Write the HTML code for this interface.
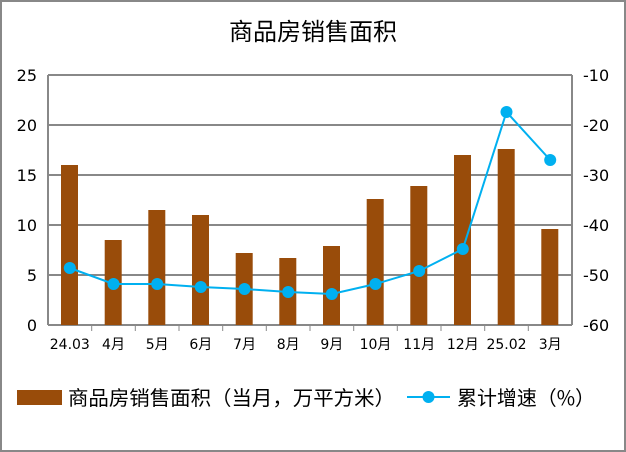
<!DOCTYPE html>
<html><head><meta charset="utf-8"><style>
html,body{margin:0;padding:0;background:#fff}
svg{display:block}
text{font-family:"DejaVu Sans","Liberation Sans","Noto Sans CJK SC",sans-serif;fill:#000}
.cjk{font-family:"WenQuanYi Zen Hei","Noto Sans CJK SC",sans-serif}
</style></head><body>
<svg width="626" height="452" viewBox="0 0 626 452" xmlns="http://www.w3.org/2000/svg">
<rect x="1" y="1" width="624" height="450" fill="#fff" stroke="#888" stroke-width="2"/>
<text x="313" y="40" font-size="24" text-anchor="middle">商品房销售面积</text>
<g stroke="#888" stroke-width="2" fill="none">
<line x1="48" y1="75" x2="572" y2="75"/>
<line x1="48" y1="125" x2="572" y2="125"/>
<line x1="48" y1="175" x2="572" y2="175"/>
<line x1="48" y1="225" x2="572" y2="225"/>
<line x1="48" y1="275" x2="572" y2="275"/>
<line x1="48" y1="325" x2="572" y2="325"/>
<line x1="48" y1="75" x2="48" y2="325"/>
<line x1="572" y1="75" x2="572" y2="325"/>
</g>
<g stroke="#888" stroke-width="1">
<line x1="91.7" y1="325" x2="91.7" y2="331"/><line x1="135.3" y1="325" x2="135.3" y2="331"/>
<line x1="179" y1="325" x2="179" y2="331"/><line x1="222.7" y1="325" x2="222.7" y2="331"/>
<line x1="266.3" y1="325" x2="266.3" y2="331"/><line x1="310" y1="325" x2="310" y2="331"/>
<line x1="353.7" y1="325" x2="353.7" y2="331"/><line x1="397.3" y1="325" x2="397.3" y2="331"/>
<line x1="441" y1="325" x2="441" y2="331"/><line x1="484.7" y1="325" x2="484.7" y2="331"/>
<line x1="528.3" y1="325" x2="528.3" y2="331"/>
</g>
<g fill="#994c0a">
<rect x="61" y="165" width="17" height="160"/>
<rect x="104.7" y="240" width="17" height="85"/>
<rect x="148.3" y="210" width="17" height="115"/>
<rect x="192" y="215" width="17" height="110"/>
<rect x="235.7" y="253" width="17" height="72"/>
<rect x="279.3" y="258" width="17" height="67"/>
<rect x="323" y="246" width="17" height="79"/>
<rect x="366.7" y="199" width="17" height="126"/>
<rect x="410.3" y="186" width="17" height="139"/>
<rect x="454" y="155" width="17" height="170"/>
<rect x="497.7" y="149" width="17" height="176"/>
<rect x="541.3" y="229" width="17" height="96"/>
</g>
<polyline fill="none" stroke="#00b0f0" stroke-width="2" points="69.8,268 113.5,284 157.2,284 200.8,287 244.5,289 288.2,292 331.8,294 375.5,284 419.2,271 462.8,249 506.5,112 550.2,160"/>
<g fill="#00b0f0">
<circle cx="69.8" cy="268" r="6"/><circle cx="113.5" cy="284" r="6"/><circle cx="157.2" cy="284" r="6"/>
<circle cx="200.8" cy="287" r="6"/><circle cx="244.5" cy="289" r="6"/><circle cx="288.2" cy="292" r="6"/>
<circle cx="331.8" cy="294" r="6"/><circle cx="375.5" cy="284" r="6"/><circle cx="419.2" cy="271" r="6"/>
<circle cx="462.8" cy="249" r="6"/><circle cx="506.5" cy="112" r="6"/><circle cx="550.2" cy="160" r="6"/>
</g>
<g font-size="16" text-anchor="end">
<text x="37" y="81">25</text><text x="37" y="131">20</text><text x="37" y="181">15</text>
<text x="37" y="231">10</text><text x="37" y="281">5</text><text x="37" y="331">0</text>
</g>
<g font-size="16" text-anchor="start">
<text x="583" y="81">-10</text><text x="583" y="131">-20</text><text x="583" y="181">-30</text>
<text x="583" y="231">-40</text><text x="583" y="281">-50</text><text x="583" y="331">-60</text>
</g>
<g font-size="14" text-anchor="middle">
<text x="69.8" y="349">24.03</text><text x="113.5" y="349">4月</text><text x="157.2" y="349">5月</text>
<text x="200.8" y="349">6月</text><text x="244.5" y="349">7月</text><text x="288.2" y="349">8月</text>
<text x="331.8" y="349">9月</text><text x="375.5" y="349">10月</text><text x="419.2" y="349">11月</text>
<text x="462.8" y="349">12月</text><text x="506.5" y="349">25.02</text><text x="550.2" y="349">3月</text>
</g>
<rect x="17" y="390" width="45" height="15" fill="#994c0a"/>
<text class="cjk" x="68" y="405" font-size="20" textLength="327" lengthAdjust="spacingAndGlyphs">商品房销售面积（当月，万平方米）</text>
<line x1="407" y1="397" x2="450" y2="397" stroke="#00b0f0" stroke-width="2"/>
<circle cx="428.5" cy="397" r="6" fill="#00b0f0"/>
<text class="cjk" x="457" y="405" font-size="20" textLength="138" lengthAdjust="spacingAndGlyphs">累计增速（%）</text>
</svg>
</body></html>
